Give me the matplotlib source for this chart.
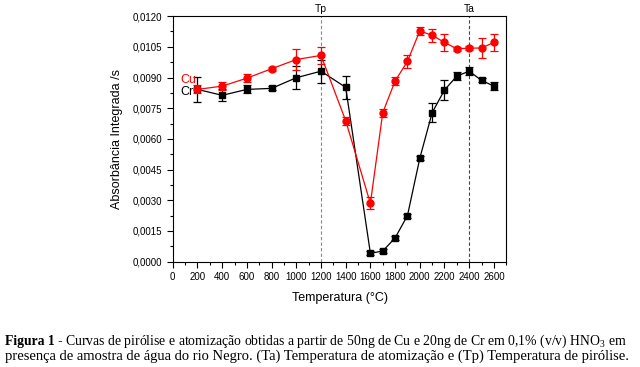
import matplotlib
matplotlib.use("Agg")
import matplotlib.pyplot as plt
from matplotlib.ticker import MultipleLocator, FuncFormatter

plt.rcParams['font.family'] = ['Liberation Sans', 'DejaVu Sans']
plt.rcParams['mathtext.fontset'] = 'custom'
plt.rcParams['mathtext.rm'] = 'Liberation Serif'
plt.rcParams['mathtext.bf'] = 'Liberation Serif:bold'

temps = [200, 400, 600, 800, 1000, 1200, 1400, 1600, 1700, 1800, 1900, 2000, 2100, 2200, 2300, 2400, 2500, 2600]
cu = [0.00842, 0.00858, 0.00897, 0.00943, 0.00988, 0.01008, 0.00689, 0.00285, 0.00728, 0.00883,
      0.00979, 0.01128, 0.01106, 0.01072, 0.01040, 0.01044, 0.01044, 0.01072]
cu_err = [0.0002, 0.0002, 0.0002, 0.0001, 0.0005, 0.0004, 0.0002, 0.0003, 0.0002, 0.0002,
          0.0003, 0.0002, 0.0003, 0.0004, 0.0001, 0.0001, 0.0005, 0.0004]
cr = [0.00842, 0.00813, 0.00842, 0.00847, 0.00899, 0.00931, 0.00852, 0.00041, 0.00052, 0.00116,
      0.00225, 0.00505, 0.00728, 0.00839, 0.00907, 0.00931, 0.00886, 0.00858]
cr_err = [0.0006, 0.0003, 0.0002, 0.0001, 0.00055, 0.00056, 0.00056, 0.0001, 0.0001, 0.0001,
          0.0001, 0.0001, 0.00047, 0.0005, 0.0002, 0.0002, 0.0001, 0.0002]
tp, ta = 1200, 2400

fig = plt.figure(figsize=(6.4, 3.67), dpi=100)
ax = fig.add_axes([0.270, 0.287, 0.521, 0.669])

ax.errorbar(temps, cr, yerr=cr_err, color="black", marker="s", markersize=4.5, lw=0.9,
            capsize=3, elinewidth=0.9, capthick=0.9, zorder=3)
ax.errorbar(temps, cu, yerr=cu_err, color="#ff0000", marker="o", markersize=5, lw=0.9,
            capsize=3, elinewidth=0.9, capthick=0.9, zorder=4)

ax.axvline(tp, color="#888888", ls=(0, (3, 2)), lw=0.8, zorder=1)
ax.axvline(ta, color="#444444", ls=(0, (3, 2)), lw=0.8, zorder=1)
ax.text(tp, 0.01212, "Tp", ha="center", va="bottom", fontsize=7.5)
ax.text(ta, 0.01212, "Ta", ha="center", va="bottom", fontsize=7.5)

ax.set_xlim(0, 2700)
ax.set_ylim(0, 0.0120)
ax.xaxis.set_major_locator(MultipleLocator(200))
ax.xaxis.set_minor_locator(MultipleLocator(100))
ax.yaxis.set_major_locator(MultipleLocator(0.0015))
ax.yaxis.set_minor_locator(MultipleLocator(0.00075))
ax.yaxis.set_major_formatter(FuncFormatter(lambda v, p: f"{v:.4f}".replace(".", ",")))
ax.tick_params(which="major", direction="out", length=4, width=0.8, labelsize=7)
ax.tick_params(which="minor", direction="out", length=2.5, width=0.8)
ax.tick_params(top=False, right=False)
for s in ax.spines.values():
    s.set_linewidth(0.8)

ax.set_xlabel("Temperatura (°C)", fontsize=9, labelpad=7)
ax.set_ylabel("Absorbância Integrada /s", fontsize=9, labelpad=7)

ax.text(0.022, 0.74, "Cu", transform=ax.transAxes, color="#ff0000", fontsize=9, va="center")
ax.text(0.022, 0.69, "Cr", transform=ax.transAxes, color="black", fontsize=9, va="center")

fig.text(0.008, 1 - 341/367, "Figura 1 -", fontweight="bold", family="Liberation Serif",
         fontsize=9.8, va="center")
fig.text(65/640, 1 - 341/367,
         "Curvas de pirólise e atomização obtidas a partir de 50ng de Cu e 20ng de Cr em 0,1% (v/v) HNO$_3$ em",
         family="Liberation Serif", fontsize=9.9, va="center")
fig.text(0.008, 1 - 356/367,
         "presença de amostra de água do rio Negro. (Ta) Temperatura de atomização e (Tp) Temperatura de pirólise.",
         family="Liberation Serif", fontsize=10.5, va="center")

fig.savefig("out.png", dpi=100)
